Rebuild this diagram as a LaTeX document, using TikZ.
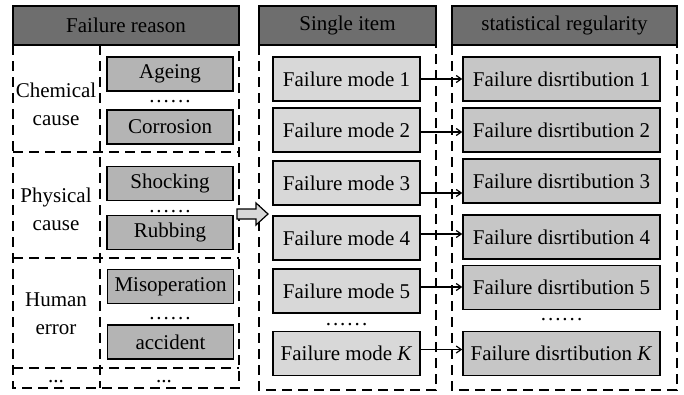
\documentclass[tikz,border=0pt]{standalone}
\usepackage{fontspec}
\setmainfont{Liberation Serif}
\usetikzlibrary{arrows.meta}
\definecolor{hdr}{HTML}{6E6E6E}
\definecolor{lfill}{HTML}{B4B4B4}
\definecolor{mfill}{HTML}{D8D8D8}
\definecolor{rfill}{HTML}{C6C6C6}
\newcommand{\sixdots}{.\kern2pt.\kern2pt.\kern2pt.\kern2pt.\kern2pt.}
\begin{document}
\begin{tikzpicture}[x=1pt,y=-1pt,
  every node/.style={font=\fontsize{21}{24}\selectfont, inner sep=0pt},
  hdrbox/.style={draw=black, line width=1.5pt, fill=hdr, minimum height=39pt},
  lbox/.style={draw=black, line width=1.5pt, fill=lfill, minimum width=126pt, minimum height=34pt},
  mbox/.style={draw=black, line width=1.5pt, fill=mfill, minimum width=147pt, minimum height=44pt},
  rbox/.style={draw=black, line width=1.5pt, fill=rfill, minimum width=197pt, minimum height=44pt},
  panel/.style={draw=black, line width=2pt, dash pattern=on 10pt off 6pt},
  conn/.style={draw=black, line width=1.2pt, -{Straight Barb[length=5pt,width=7pt]}},
  lbl/.style={align=center, font=\fontsize{21}{28}\selectfont},
  dots/.style={font=\fontsize{21}{21}\selectfont, anchor=base}
]
\useasboundingbox (0,0) rectangle (684,394);
\fill[white] (0,0) rectangle (684,394);

% dashed panels
\draw[panel] (13,45) rectangle (239,388);
\draw[panel] (13,152) -- (239,152);
\draw[panel] (13,258) -- (239,258);
\draw[panel] (13,368) -- (239,368);
\draw[panel] (100,45) -- (100,388);
\draw[panel] (259,45) rectangle (436,390);
\draw[panel] (452,45) rectangle (677,390);

% headers
\node[hdrbox, minimum width=226pt] (h1) at (126,25.5) {Failure reason};
\node[hdrbox, minimum width=177pt] (h2) at (347.5,25.5) {Single item};
\node[hdrbox, minimum width=225pt] (h3) at (564.5,25.5) {statistical regularity};

% left labels
\node[lbl] (c1) at (56,104) {Chemical\\cause};
\node[lbl] (c2) at (56,209) {Physical\\cause};
\node[lbl] (c3) at (56,314) {Human\\error};
\node[dots] (c4) at (56,382) {...};

% left items
\node[lbox] (a1) at (170,74) {Ageing};
\node[dots] (ad) at (170,102) {\sixdots};
\node[lbox] (a2) at (170,127) {Corrosion};
\node[lbox] (b1) at (170,183.5) {Shocking};
\node[dots] (bd) at (170,212) {\sixdots};
\node[lbox] (b2) at (170,232.5) {Rubbing};
\node[lbox] (e1) at (170.5,286.5) {Misoperation};
\node[dots] (ed) at (170,319) {\sixdots};
\node[lbox] (e2) at (170.5,342) {accident};
\node[dots] (fd) at (164,382) {...};

% hollow arrow
\filldraw[fill=mfill, draw=black, line width=1.2pt]
  (237,209) -- (256,209) -- (256,203) -- (268,214) -- (256,225) -- (256,219) -- (237,219) -- cycle;

% middle items
\node[mbox] (m1) at (346.5,79) {Failure mode 1};
\node[mbox] (m2) at (346.5,130) {Failure mode 2};
\node[mbox] (m3) at (346.5,183) {Failure mode 3};
\node[mbox] (m4) at (346.5,238) {Failure mode 4};
\node[mbox] (m5) at (346.5,291) {Failure mode 5};
\node[dots] (md) at (346.5,325) {\sixdots};
\node[mbox] (mk) at (346.5,353.5) {Failure mode \textit{K}};

% right items
\node[rbox] (d1) at (561.5,79) {Failure disrtibution 1};
\node[rbox] (d2) at (561.5,130) {Failure disrtibution 2};
\node[rbox] (d3) at (561.5,181) {Failure disrtibution 3};
\node[rbox] (d4) at (561.5,237) {Failure disrtibution 4};
\node[rbox] (d5) at (561.5,287.5) {Failure disrtibution 5};
\node[dots] (dd) at (561.5,320) {\sixdots};
\node[rbox] (dk) at (561.5,353.5) {Failure disrtibution \textit{K}};

% connectors
\draw[conn] (m1.east) -- (m1.east -| d1.west);
\draw[conn] ([yshift=-2pt]m2.east) -- ([yshift=-2pt]m2.east -| d2.west);
\draw[conn] ([yshift=-10pt]m3.east) -- ([yshift=-10pt]m3.east -| d3.west);
\draw[conn] ([yshift=4pt]m4.east) -- ([yshift=4pt]m4.east -| d4.west);
\draw[conn] ([yshift=4pt]m5.east) -- ([yshift=4pt]m5.east -| d5.west);
\draw[conn] ([yshift=4pt]mk.east) -- ([yshift=4pt]mk.east -| dk.west);
\end{tikzpicture}
\end{document}
